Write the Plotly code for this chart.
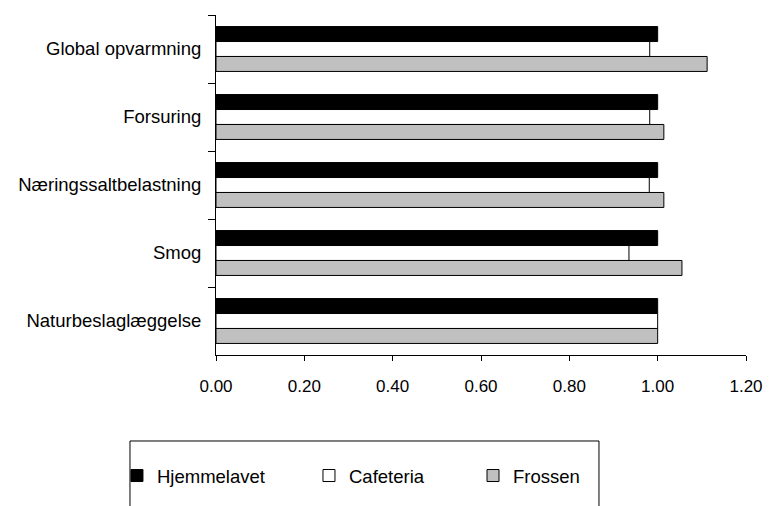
import plotly.graph_objects as go

categories = ["Global opvarmning", "Forsuring", "Næringssaltbelastning", "Smog", "Naturbeslaglæggelse"]
hjemmelavet = [1.00, 1.00, 1.00, 1.00, 1.00]
cafeteria = [0.982, 0.982, 0.981, 0.935, 1.00]
frossen = [1.112, 1.014, 1.014, 1.055, 1.00]
x_ticks = [0.0, 0.2, 0.4, 0.6, 0.8, 1.0, 1.2]
x_ticklabels = ["0.00", "0.20", "0.40", "0.60", "0.80", "1.00", "1.20"]

series = [
    ("Hjemmelavet", hjemmelavet, "#000000", "legend", 0.1521),
    ("Cafeteria", cafeteria, "#ffffff", "legend2", 0.4018),
    ("Frossen", frossen, "#c0c0c0", "legend3", 0.6151),
]

fig = go.Figure()
for name, vals, color, leg, lx in series:
    fig.add_trace(go.Bar(
        y=categories, x=vals, name=name, orientation="h",
        marker=dict(color=color, line=dict(color="#000000", width=1)),
        legend=leg, showlegend=True,
    ))

fam = "Liberation Sans, Arial, sans-serif"
font = dict(family=fam, size=18.5, color="#000000")
legend_common = dict(orientation="h", xref="container", yref="container",
                     yanchor="middle", y=0.0593, xanchor="left",
                     bgcolor="rgba(0,0,0,0)", borderwidth=0, font=font)

fig.update_layout(
    width=769, height=506,
    showlegend=True,
    margin=dict(l=216, r=23, t=15, b=151, autoexpand=False),
    paper_bgcolor="white", plot_bgcolor="white",
    font=font,
    barmode="group", bargap=0.34, bargroupgap=0,
    legend=dict(x=series[0][4], **legend_common),
    legend2=dict(x=series[1][4], **legend_common),
    legend3=dict(x=series[2][4], **legend_common),
    xaxis=dict(range=[0, 1.2], tickvals=x_ticks, ticktext=x_ticklabels,
               tickfont=dict(family=fam, size=17, color="#000000"),
               showgrid=False, zeroline=False, showline=True, linecolor="#000000",
               linewidth=1, ticks="outside", ticklen=5, tickcolor="#000000",
               ticklabelstandoff=11),
    yaxis=dict(autorange="reversed", showgrid=False, zeroline=False, showline=True,
               linecolor="#000000", linewidth=1, ticks="outside", ticklen=7,
               tickcolor="#000000", tickson="boundaries", ticklabelstandoff=10),
    shapes=[dict(type="rect", xref="paper", yref="paper",
                 x0=-0.1623, x1=0.7226, y0=-0.2529, y1=-0.6,
                 line=dict(color="#000000", width=1), fillcolor="rgba(0,0,0,0)")],
)

fig.write_html("out.html", config={"displayModeBar": False},
               post_script="document.body.style.margin='0';document.body.style.overflow='hidden';")
